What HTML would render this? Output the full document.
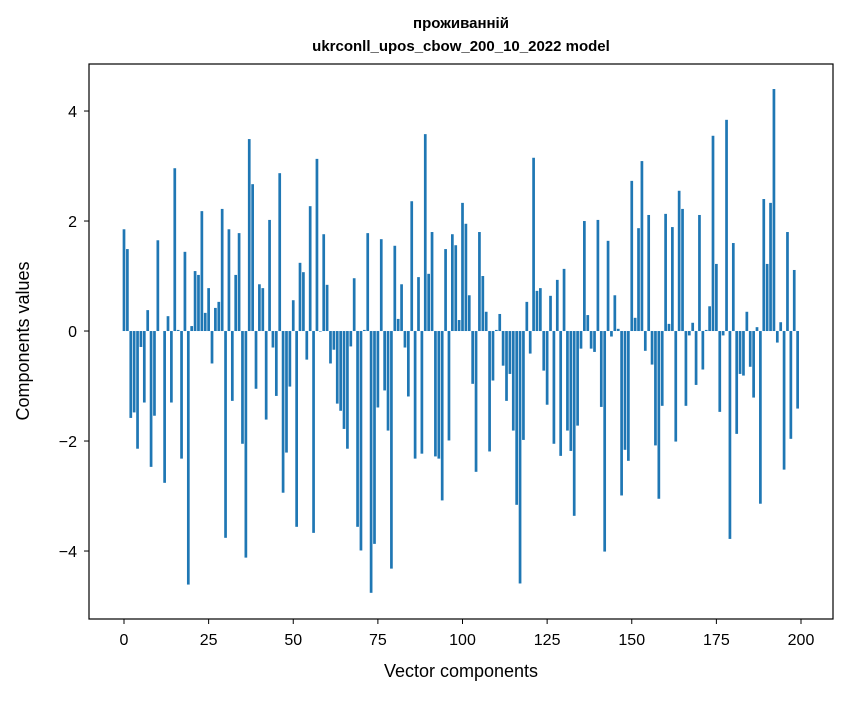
<!DOCTYPE html>
<html><head><meta charset="utf-8"><style>
body{margin:0;background:#fff;}
text{font-family:"Liberation Sans","DejaVu Sans",sans-serif;fill:#000;}
</style></head><body>
<svg id="chart" width="847" height="696" xmlns="http://www.w3.org/2000/svg">
<rect width="847" height="696" fill="#fff"/>
<text x="461" y="28" text-anchor="middle" font-size="15" font-weight="bold">проживанній</text>
<text x="461" y="51" text-anchor="middle" font-size="15" font-weight="bold">ukrconll_upos_cbow_200_10_2022 model</text>
<g id="bars"></g>
<g id="axes"></g>
<rect x="89" y="64" width="744" height="555" fill="none" stroke="#000" stroke-width="1.2"/>
<text x="461" y="677" text-anchor="middle" font-size="18">Vector components</text>
<text transform="translate(29,341) rotate(-90)" text-anchor="middle" font-size="18">Components values</text>
</svg>
<script>
const values = [1.85,1.49,-1.58,-1.48,-2.14,-0.29,-1.30,0.38,-2.47,-1.54,
1.65,0,-2.76,0.27,-1.30,2.96,0.02,-2.32,1.44,-4.61,
0.09,1.09,1.02,2.18,0.33,0.78,-0.59,0.42,0.53,2.22,
-3.76,1.85,-1.27,1.02,1.78,-2.05,-4.12,3.49,2.67,-1.05,
0.85,0.78,-1.61,2.02,-0.30,-1.18,2.87,-2.94,-2.21,-1.01,
0.56,-3.56,1.24,1.07,-0.52,2.27,-3.67,3.13,-0.01,1.76,
0.84,-0.59,-0.34,-1.32,-1.45,-1.78,-2.14,-0.28,0.96,-3.56,
-3.99,0.02,1.78,-4.76,-3.87,-1.39,1.67,-1.08,-1.81,-4.32,
1.55,0.22,0.85,-0.30,-1.19,2.36,-2.32,0.98,-2.23,3.58,
1.04,1.80,-2.28,-2.32,-3.08,1.49,-1.99,1.76,1.56,0.20,
2.33,1.95,0.65,-0.96,-2.56,1.80,1.00,0.35,-2.19,-0.90,
0.02,0.31,-0.63,-1.27,-0.78,-1.81,-3.16,-4.59,-1.98,0.53,
-0.41,3.15,0.73,0.78,-0.72,-1.34,0.64,-2.05,0.93,-2.27,
1.13,-1.81,-2.18,-3.36,-1.72,-0.32,2.00,0.29,-0.32,-0.38,
2.02,-1.38,-4.01,1.64,-0.10,0.65,0.04,-2.99,-2.16,-2.36,
2.73,0.24,1.87,3.09,-0.36,2.11,-0.61,-2.08,-3.05,-1.36,
2.13,0.13,1.89,-2.01,2.55,2.22,-1.36,-0.08,0.15,-0.98,
2.11,-0.70,0.02,0.45,3.55,1.22,-1.47,-0.08,3.84,-3.78,
1.60,-1.87,-0.78,-0.81,0.35,-0.65,-1.21,0.07,-3.14,2.40,
1.22,2.33,4.40,-0.21,0.16,-2.52,1.80,-1.96,1.11,-1.41];
const xTicks = [0,25,50,75,100,125,150,175,200];
const yTicks = [-4,-2,0,2,4];

const NS="http://www.w3.org/2000/svg";
const X0=-10.34, X1=209.45, Y0=-5.236, Y1=4.855;
const L=89,R=833,T=64,B=619;
function xs(v){return L+(v-X0)/(X1-X0)*(R-L);}
function ys(v){return B-(v-Y0)/(Y1-Y0)*(B-T);}
const gb=document.getElementById('bars');
values.forEach((v,i)=>{
  const r=document.createElementNS(NS,'rect');
  const x1=xs(i-0.4), x2=xs(i+0.4);
  const y0=ys(0), yv=ys(v);
  r.setAttribute('x',x1); r.setAttribute('width',x2-x1);
  r.setAttribute('y',Math.min(y0,yv)); r.setAttribute('height',Math.abs(yv-y0));
  r.setAttribute('fill','#1f77b4');
  
  
  gb.appendChild(r);
});
const ga=document.getElementById('axes');
xTicks.forEach(t=>{
  const x=xs(t);
  const l=document.createElementNS(NS,'line');
  l.setAttribute('x1',x);l.setAttribute('x2',x);l.setAttribute('y1',B);l.setAttribute('y2',B+5);
  l.setAttribute('stroke','#000');
  
  
  ga.appendChild(l);
  const tx=document.createElementNS(NS,'text');
  tx.setAttribute('x',x);tx.setAttribute('y',B+26);tx.setAttribute('text-anchor','middle');tx.setAttribute('font-size','16');
  tx.textContent=t;
  
  
  ga.appendChild(tx);
});
yTicks.forEach(t=>{
  const y=ys(t);
  const l=document.createElementNS(NS,'line');
  l.setAttribute('x1',L-5);l.setAttribute('x2',L);l.setAttribute('y1',y);l.setAttribute('y2',y);
  l.setAttribute('stroke','#000');
  
  
  ga.appendChild(l);
  const tx=document.createElementNS(NS,'text');
  tx.setAttribute('x',L-12);tx.setAttribute('y',y+6);tx.setAttribute('text-anchor','end');tx.setAttribute('font-size','16');
  tx.textContent=t<0?'\u2212'+Math.abs(t):String(t);
  
  
  ga.appendChild(tx);
});
</script>
</body></html>
